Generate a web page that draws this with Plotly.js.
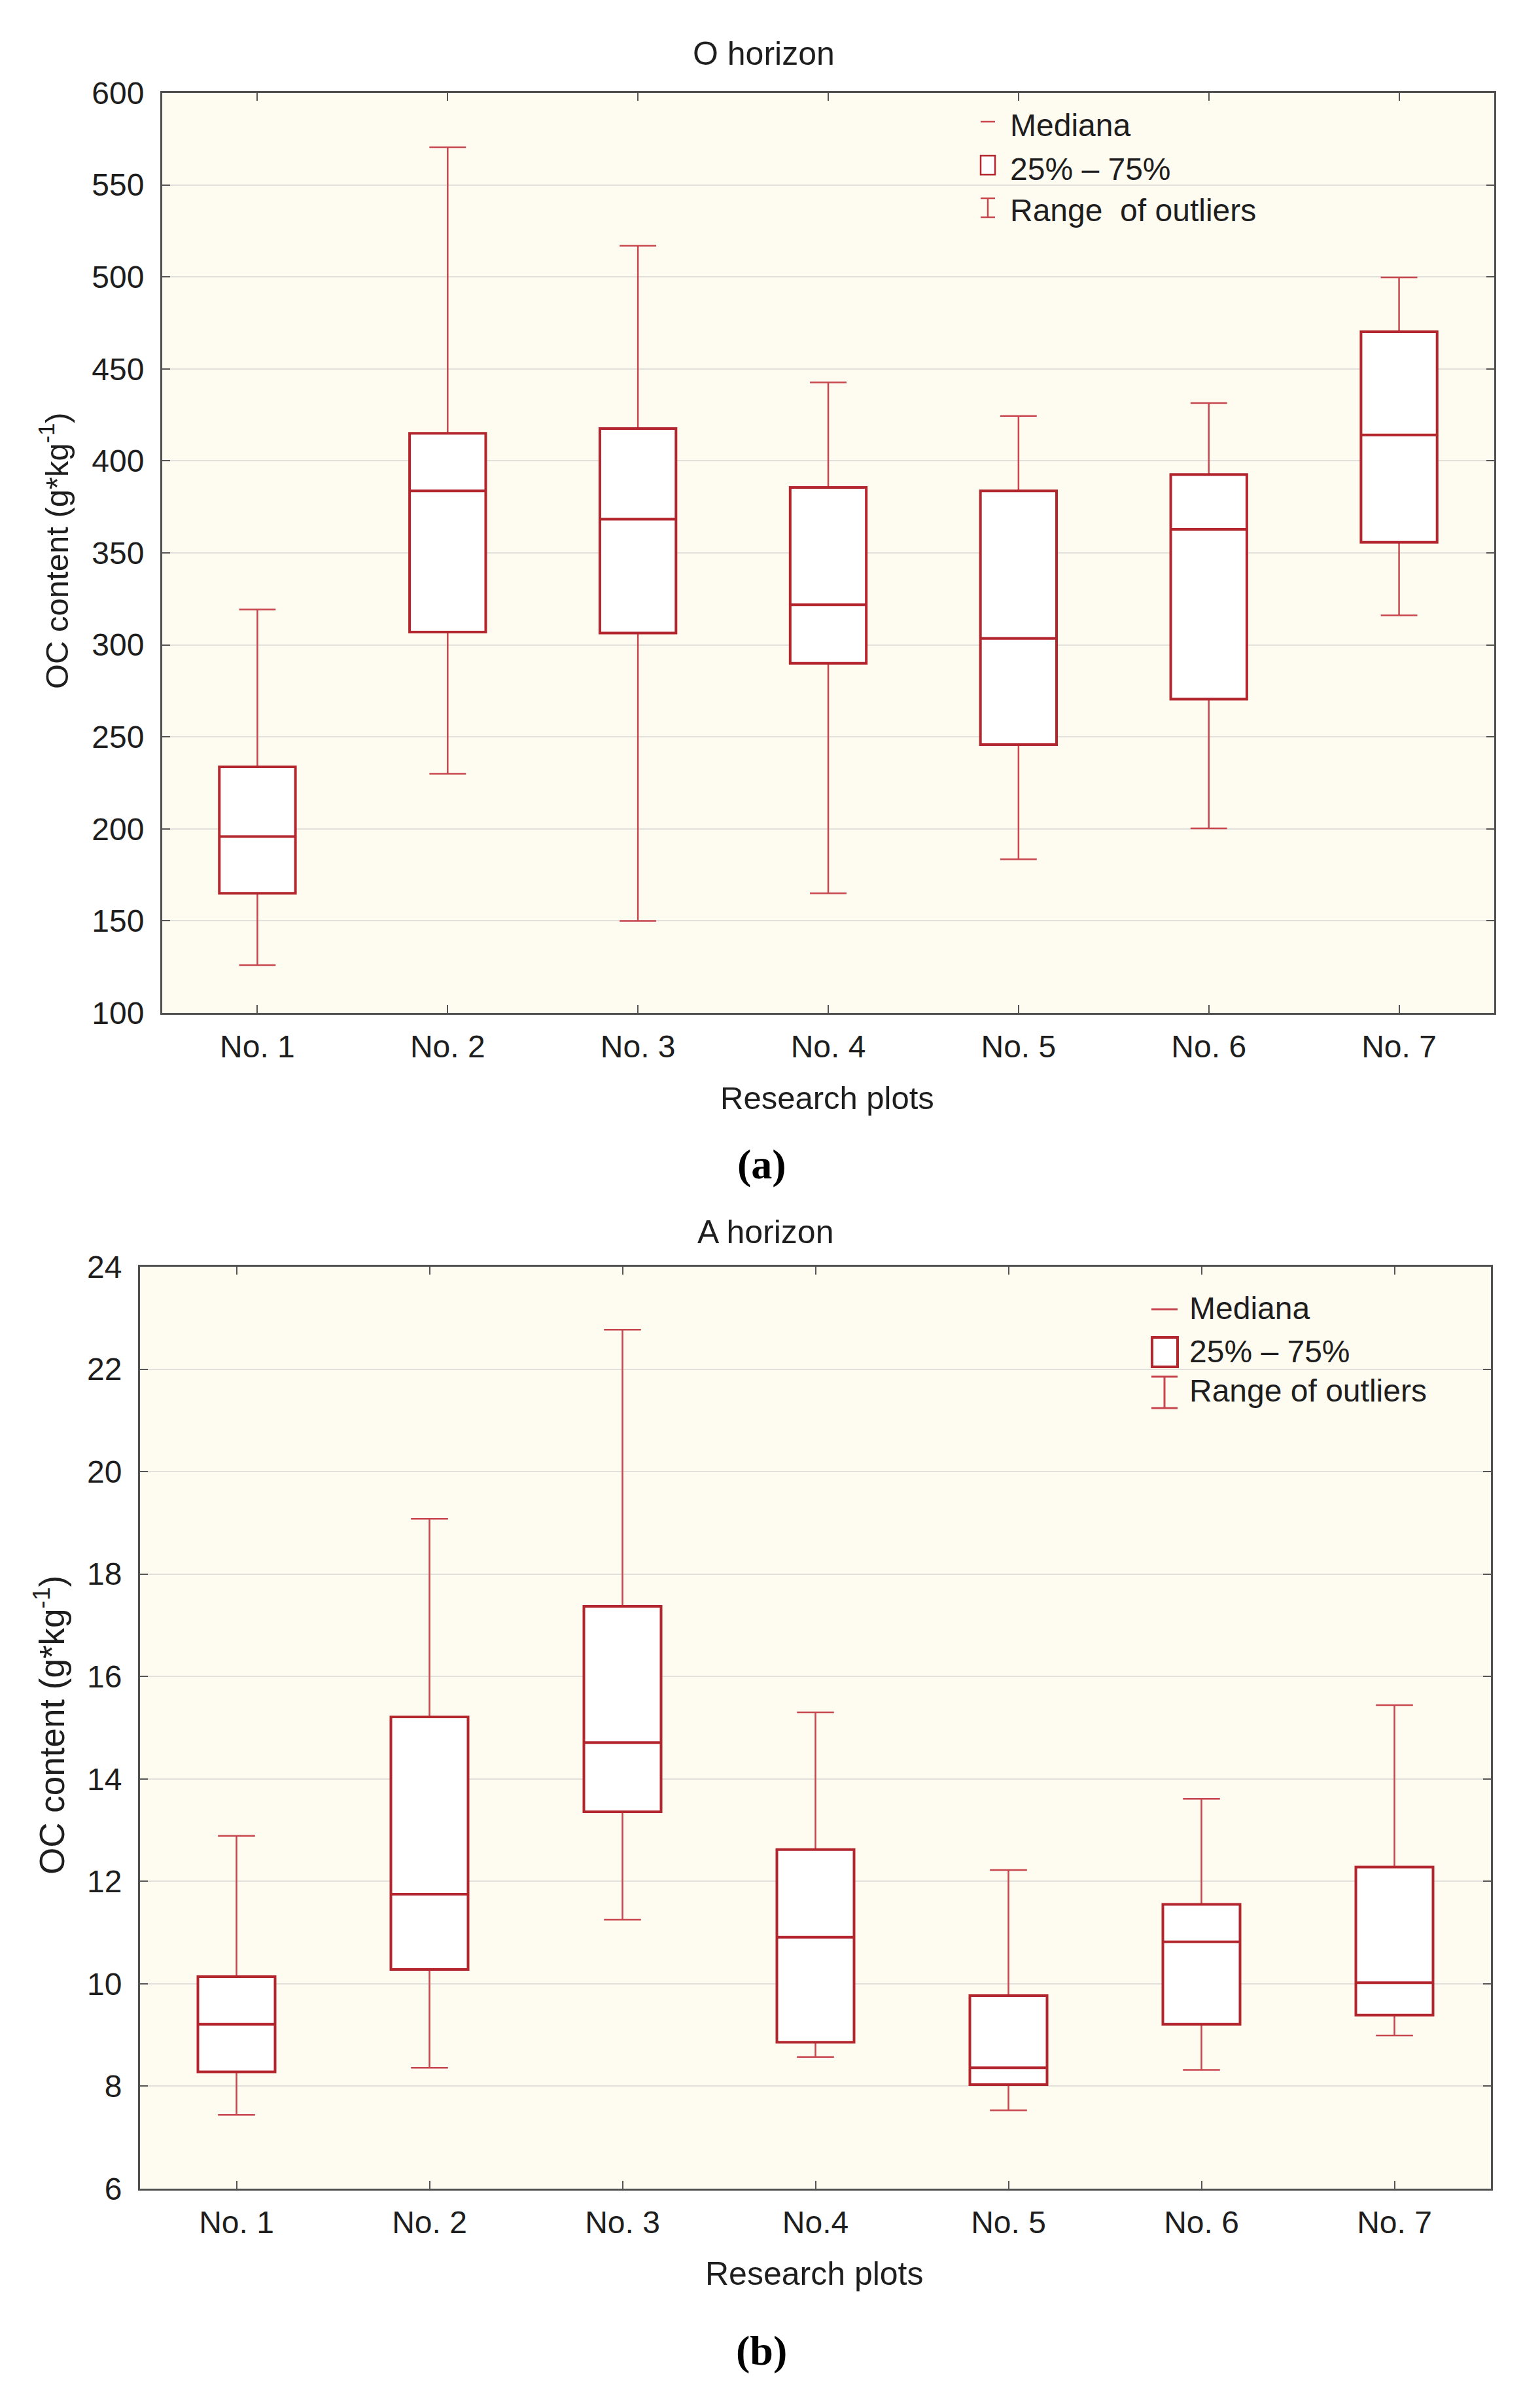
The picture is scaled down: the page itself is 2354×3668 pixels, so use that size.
<!DOCTYPE html>
<html>
<head>
<meta charset="utf-8">
<script src="https://cdn.plot.ly/plotly-3.0.1.min.js"></script>
<style>html,body{margin:0;padding:0;background:#fff;}</style>
</head>
<body>
<div id="chart" style="width:2354px;height:3668px;"></div>
<script>
// ---------- Data ----------
const plotsO = ["No. 1", "No. 2", "No. 3", "No. 4", "No. 5", "No. 6", "No. 7"];
const oLower  = [126, 230, 150, 165, 183.5, 200.3, 316];
const oQ1     = [165, 307, 306.4, 290, 245.8, 270.5, 355.8];
const oMedian = [195.8, 383.7, 368.3, 321.8, 303.5, 362.8, 414.1];
const oQ3     = [233.7, 415, 417.6, 385.6, 383.7, 392.6, 470.2];
const oUpper  = [319.2, 570.5, 517, 442.6, 424.4, 431.4, 499.7];

const plotsA = ["No. 1", "No. 2", "No. 3", "No.4", "No. 5", "No. 6", "No. 7"];
const aLower  = [7.44, 8.36, 11.25, 8.57, 7.53, 8.32, 8.99];
const aQ1     = [8.28, 10.28, 13.36, 8.86, 8.03, 9.21, 9.39];
const aMedian = [9.21, 11.75, 14.71, 10.91, 8.36, 10.82, 10.02];
const aQ3     = [10.14, 15.21, 17.37, 12.62, 9.77, 11.55, 12.28];
const aUpper  = [12.89, 19.08, 22.77, 15.30, 12.22, 13.61, 15.44];

const oTicks = [100, 150, 200, 250, 300, 350, 400, 450, 500, 550, 600];
const aTicks = [6, 8, 10, 12, 14, 16, 18, 20, 22, 24];

// ---------- Styling ----------
const W = 2354, H = 3668;
const px = x => x / W;
const py = y => 1 - y / H;
const BOX = '#B3262D';
const WHISK = '#C8464E';
const FONT = 'Liberation Sans, Arial, sans-serif';
const TXT = '#1e1e1e';

function boxPair(cats, lo, q1, med, q3, hi, xa, ya) {
  return [
    { // whiskers (thin)
      type: 'box', x: cats, q1: q1, median: med, q3: q3,
      lowerfence: lo, upperfence: hi, xaxis: xa, yaxis: ya,
      width: 0.4, whiskerwidth: 0.48, fillcolor: '#ffffff',
      line: { color: WHISK, width: 2.5 }, showlegend: false, hoverinfo: 'skip'
    },
    { // box (thick)
      type: 'box', x: cats, q1: q1, median: med, q3: q3,
      lowerfence: q1, upperfence: q3, xaxis: xa, yaxis: ya,
      width: 0.4, whiskerwidth: 0, fillcolor: 'rgba(0,0,0,0)',
      line: { color: BOX, width: 4 }, showlegend: false, hoverinfo: 'skip'
    }
  ];
}

const data = [].concat(
  boxPair(plotsO, oLower, oQ1, oMedian, oQ3, oUpper, 'x', 'y'),
  boxPair(plotsA, aLower, aQ1, aMedian, aQ3, aUpper, 'x2', 'y2')
);

function xAxis(domain, anchor, cats) {
  return {
    domain: domain, anchor: anchor, type: 'category', range: [-0.5, 6.5],
    tickvals: cats, ticktext: cats,
    ticks: 'inside', ticklen: 12, tickwidth: 2, tickcolor: '#555',
    showline: true, linewidth: 3, linecolor: '#505050', mirror: 'ticks',
    showgrid: false, zeroline: false, fixedrange: true,
    tickfont: { family: FONT, size: 48, color: TXT }, ticklabelstandoff: 7
  };
}
function yAxis(domain, anchor, range, ticks) {
  return {
    domain: domain, anchor: anchor, range: range, tickvals: ticks,
    ticks: 'inside', ticklen: 12, tickwidth: 2, tickcolor: '#555',
    showline: true, linewidth: 3, linecolor: '#505050', mirror: 'ticks',
    showgrid: true, gridcolor: '#E2E0DA', gridwidth: 2, zeroline: false,
    fixedrange: true,
    tickfont: { family: FONT, size: 48, color: TXT }, ticklabelstandoff: 15
  };
}

const layout = {
  width: W, height: H,
  margin: { l: 0, r: 0, t: 0, b: 0 },
  paper_bgcolor: '#ffffff', plot_bgcolor: '#FEFBF0',
  showlegend: false, boxmode: 'overlay',
  xaxis:  xAxis([px(248), px(2284)], 'y', plotsO),
  yaxis:  yAxis([py(1548), py(142)], 'x', [100, 600], oTicks),
  xaxis2: xAxis([px(214), px(2279)], 'y2', plotsA),
  yaxis2: yAxis([py(3345), py(1936)], 'x2', [6, 24], aTicks),
  annotations: [],
  shapes: []
};

function ann(text, x, y, size, opts) {
  layout.annotations.push(Object.assign({
    text: text, x: px(x), y: py(y), xref: 'paper', yref: 'paper',
    showarrow: false, xanchor: 'center', yanchor: 'middle',
    font: { family: FONT, size: size, color: TXT }
  }, opts || {}));
}

// Titles
ann('O horizon', 1167, 82, 50);
ann('Research plots', 1264, 1678, 49);
ann('<b>(a)</b>', 1164, 1779, 64, { font: { family: 'Liberation Serif, Times New Roman, serif', size: 64, color: '#000' } });
ann('A horizon', 1170, 1883, 50);
ann('Research plots', 1245, 3475, 50);
ann('<b>(b)</b>', 1164, 3592, 64, { font: { family: 'Liberation Serif, Times New Roman, serif', size: 64, color: '#000' } });
ann('OC content (g*kg<sup>-1</sup>)', 83, 842, 49, { textangle: -90 });
ann('OC content (g*kg<sup>-1</sup>)', 75, 2637, 53, { textangle: -90 });

// Legend top
ann('Mediana', 1542, 192, 48, { xanchor: 'left' });
ann('25% \u2013 75%', 1542, 259, 48, { xanchor: 'left' });
ann('Range\u00A0 of outliers', 1542, 322, 48, { xanchor: 'left' });
// Legend bottom
ann('Mediana', 1816, 1999, 48, { xanchor: 'left' });
ann('25% \u2013 75%', 1816, 2065, 48, { xanchor: 'left' });
ann('Range of outliers', 1816, 2125, 48, { xanchor: 'left' });

function line(x0, y0, x1, y1, color, w) {
  layout.shapes.push({ type: 'line', xref: 'paper', yref: 'paper',
    x0: px(x0), y0: py(y0), x1: px(x1), y1: py(y1), line: { color: color, width: w } });
}
function rect(x0, y0, x1, y1, color, w) {
  layout.shapes.push({ type: 'rect', xref: 'paper', yref: 'paper',
    x0: px(x0), y0: py(y0), x1: px(x1), y1: py(y1), fillcolor: '#ffffff', line: { color: color, width: w } });
}
// top legend symbols
line(1499, 186, 1521, 186, WHISK, 2.5);
rect(1499, 238, 1521, 267, BOX, 2.5);
line(1499, 303, 1521, 303, WHISK, 2.5);
line(1499, 332, 1521, 332, WHISK, 2.5);
line(1510, 303, 1510, 332, WHISK, 2.5);
// bottom legend symbols
line(1760, 2001, 1800, 2001, WHISK, 3);
rect(1761, 2044, 1800, 2089, BOX, 4);
line(1760, 2104, 1800, 2104, WHISK, 3);
line(1760, 2152, 1800, 2152, WHISK, 3);
line(1780, 2104, 1780, 2152, WHISK, 3);

Plotly.newPlot('chart', data, layout, { displayModeBar: false, staticPlot: true });
</script>
</body>
</html>
